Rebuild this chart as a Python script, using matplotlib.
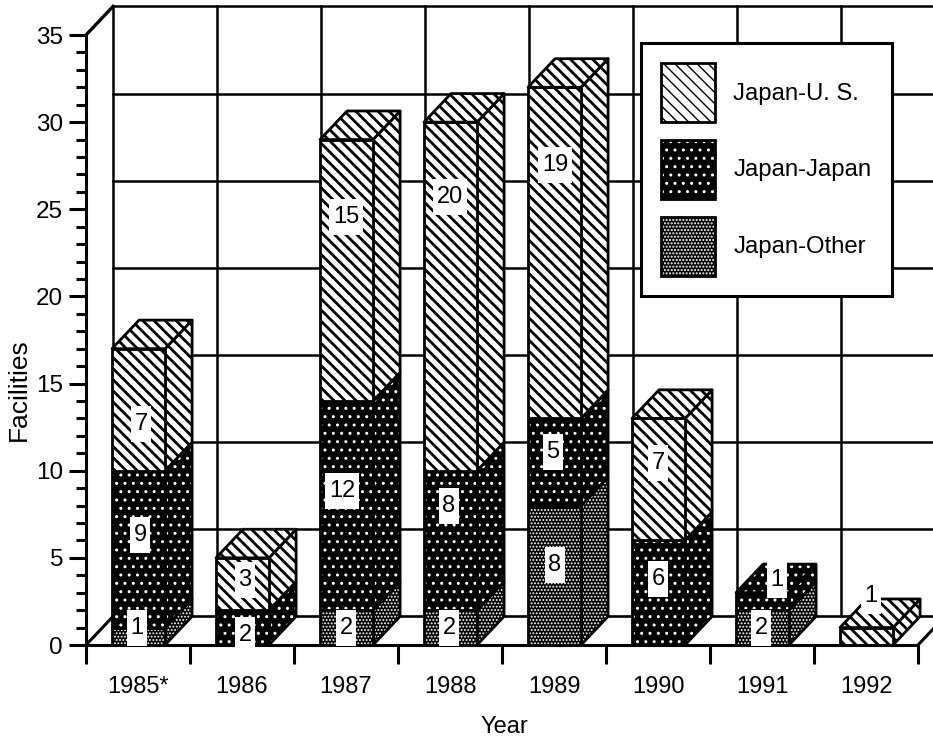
import matplotlib
matplotlib.use('Agg')
import matplotlib.pyplot as plt
from matplotlib.patches import Polygon
from matplotlib.path import Path
from matplotlib.legend_handler import HandlerTuple

plt.rcParams['font.family'] = ['Liberation Sans', 'DejaVu Sans']

years = ['1985*', '1986', '1987', '1988', '1989', '1990', '1991', '1992']
japan_other = [1, 0, 2, 2, 8, 0, 2, 0]
japan_japan = [9, 2, 12, 8, 5, 6, 1, 0]
japan_us = [7, 3, 15, 20, 19, 7, 0, 1]

series_names = ['Japan-U. S.', 'Japan-Japan', 'Japan-Other']

# nudges (pixels) of the value boxes away from the middle of their segment
nudge_other = [(-1, 8), None, (0, 0), (-1, 0), (1, 10), None, (-1, 0), None]
nudge_japan = [(2, 14), (3, -7), (-4, 15), (-1, 34), (-1, 10), (0, 14), (15, 21), None]
nudge_us = [(3, -14), (3, 4), (0, 53), (0, 99), (1, 88), (0, 16), None, (5, 40)]

# depth of the fake 3d box, in data units
DX = 0.26
DY = 1.64
BAR_LEFT = 0.25
BAR_W = 0.51

styles = {
    'us': dict(facecolor='white', edgecolor='black', hatch='\\\\\\'),
    'japan': dict(facecolor='black', edgecolor='white', hatch='..'),
    'other': dict(facecolor='black', edgecolor='white', hatch='.....'),
}
hatch_widths = {'us': 2.0, 'japan': 1.0, 'other': 0.9}

W, H = 933, 738
fig = plt.figure(figsize=(W / 100, H / 100), dpi=100, facecolor='white')
ax = fig.add_axes([86 / W, (H - 645) / H, 832 / W, 610 / H])
ax.patch.set_visible(False)
ax.set_xlim(0, 8)
ax.set_ylim(0, 35)


def make_fill(verts, style, zorder=3):
    p = Polygon(verts, closed=True, linewidth=0, clip_on=False, zorder=zorder, **styles[style])
    p.set_hatch_linewidth(hatch_widths[style])
    return p


def make_edge(verts, zorder=3, lw=2.0):
    return Polygon(verts, closed=True, fill=False, edgecolor='black', linewidth=lw,
                   joinstyle='round', clip_on=False, zorder=zorder)


def add_face(verts, style, zorder):
    ax.add_patch(make_fill(verts, style, zorder))
    ax.add_patch(make_edge(verts, zorder))


def tall_box(x0, y0, width, height, mutation_size):
    # the white label boxes of the original are much taller than the digits
    px, py = 3.5, 7.0
    return Path([(x0 - px, y0 - py), (x0 + width + px, y0 - py),
                 (x0 + width + px, y0 + height + py), (x0 - px, y0 + height + py),
                 (x0 - px, y0 - py)], closed=True)


# back wall and floor
for v in range(5, 36, 5):
    ax.plot([DX, 8 + DX], [v + DY, v + DY], color='black', lw=1.8, clip_on=False, zorder=1)
for i in range(8):
    ax.plot([i + DX, i + DX], [DY, 35 + DY], color='black', lw=1.8, clip_on=False, zorder=1)
ax.plot([DX, 8 + DX], [DY, DY], color='black', lw=1.9, clip_on=False, zorder=1)
ax.plot([0, DX], [0, DY], color='black', lw=2.2, clip_on=False, zorder=1)
ax.plot([8, 8 + DX], [0, DY], color='black', lw=2.2, clip_on=False, zorder=1)
ax.plot([0, DX], [35, 35 + DY], color='black', lw=2.4, clip_on=False, zorder=1)

# bars, bottom segment first
for i in range(len(years)):
    x0 = i + BAR_LEFT
    x1 = x0 + BAR_W
    base = 0
    top_style = None
    stack = [('other', japan_other[i], nudge_other[i]),
             ('japan', japan_japan[i], nudge_japan[i]),
             ('us', japan_us[i], nudge_us[i])]
    for style, val, nudge in stack:
        if val == 0:
            continue
        top = base + val
        add_face([(x1, base), (x1 + DX, base + DY), (x1 + DX, top + DY), (x1, top)], style, 3)
        add_face([(x0, base), (x1, base), (x1, top), (x0, top)], style, 3)
        top_style = style
        base = top
    add_face([(x0, base), (x1, base), (x1 + DX, base + DY), (x0 + DX, base + DY)], top_style, 3)

    base = 0
    for style, val, nudge in stack:
        if val == 0:
            continue
        ax.annotate(str(val), xy=(i + 0.5, base + val / 2), xytext=nudge,
                    textcoords='offset pixels', ha='center', va='center', fontsize=17,
                    zorder=6, annotation_clip=False,
                    bbox=dict(boxstyle=tall_box, facecolor='white', edgecolor='none'))
        base += val

# axes
for side in ['top', 'right']:
    ax.spines[side].set_visible(False)
for side in ['left', 'bottom']:
    ax.spines[side].set_linewidth(2.2)
    ax.spines[side].set_zorder(5)

ax.set_yticks(range(0, 36, 5))
ax.set_yticks(range(0, 36), minor=True)
ax.tick_params(axis='y', which='major', length=12, width=2.2, pad=4.5, labelsize=17.5)
ax.tick_params(axis='y', which='minor', length=7, width=2.2)
ax.set_xticks(range(9))
ax.set_xticklabels([])
ax.set_xticks([i + 0.5 for i in range(8)], years, minor=True)
ax.tick_params(axis='x', which='major', length=14, width=2.2)
ax.tick_params(axis='x', which='minor', length=0, pad=22, labelsize=17)

ax.set_xlabel('Year', fontsize=17)
ax.set_ylabel('Facilities', fontsize=19)
ax.xaxis.set_label_coords(0.5024, -0.116)
ax.yaxis.set_label_coords(-0.066, 0.418)

# legend
handles = []
for style in ['us', 'japan', 'other']:
    fill = make_fill([(0, 0), (1, 0), (1, 1)], style)
    edge = make_edge([(0, 0), (1, 0), (1, 1)])
    handles.append((fill, edge))
leg = ax.legend(handles, series_names, handler_map={tuple: HandlerTuple(ndivide=1, pad=0)},
                loc='upper left', bbox_to_anchor=(641 / W, (H - 43) / H),
                bbox_transform=fig.transFigure, borderaxespad=0, fontsize=17.2,
                fancybox=False, framealpha=1, edgecolor='black', borderpad=0.85,
                handlelength=2.26, handleheight=3.42, labelspacing=0.75, handletextpad=0.75)
leg.get_frame().set_linewidth(2.2)
leg.set_zorder(10)

fig.savefig('out.png', dpi=100)
